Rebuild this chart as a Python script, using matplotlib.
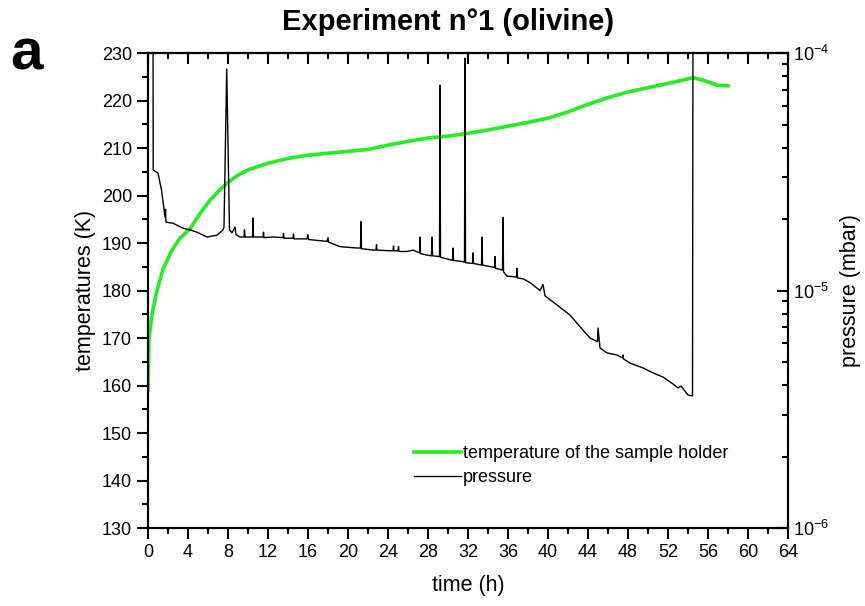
import matplotlib
matplotlib.use("Agg")
import matplotlib.pyplot as plt
import numpy as np
from matplotlib.ticker import MultipleLocator, LogLocator, NullFormatter

plt.rcParams['font.family'] = ['Liberation Sans', 'DejaVu Sans']
plt.rcParams['mathtext.default'] = 'regular'

# temperature of the sample holder (K) vs time (h)
temp_time = [0, 0.1, 0.4, 0.9, 1.5, 2.4, 3.2, 4.2, 5.2, 6.2, 7.0, 7.9, 9, 10, 11, 12,
             14, 16, 18, 20, 22, 24, 26, 28, 30, 32, 34, 36, 38, 40, 42, 44, 46, 48,
             50, 52, 54.5, 55.5, 57, 58]
temp_vals = [159, 170, 175, 180, 184.5, 188.5, 191, 193.0, 196.2, 199, 200.8, 202.6, 204.3,
             205.4, 206.1, 206.8, 207.8, 208.5, 208.9, 209.3, 209.7, 210.6, 211.4, 212.1,
             212.5, 213.1, 213.8, 214.6, 215.4, 216.3, 217.6, 219.2, 220.6, 221.8, 222.7,
             223.6, 224.8, 224.3, 223.2, 223.1]

# pressure (mbar) vs time (h), spikes included
pres_time = [0.5, 0.52, 1.0, 1.35, 1.7, 1.75, 1.8, 2.5, 3.5, 4.2, 4.9, 5.9, 6.9, 7.5, 7.6,
             7.87, 8.15, 8.4, 8.7, 8.8, 9.2, 9.6, 9.65, 9.7, 10.2, 10.45, 10.5, 10.55, 11.0,
             11.5, 11.55, 11.6, 12.5, 13.5, 13.55, 13.6, 14.5, 14.55, 14.6, 15.9, 16.0, 16.05,
             17.9, 18.0, 18.05, 19.2, 20.9, 21.25, 21.3, 21.35, 22.5, 22.8, 22.85, 22.9,
             24.2, 24.5, 24.55, 24.6, 25.0, 25.05, 25.1, 25.9, 26.5, 27.15, 27.2, 27.25, 27.9,
             28.35, 28.4, 28.45, 29.15, 29.2, 29.25, 30.45, 30.5, 30.55, 31.65, 31.7, 31.75,
             32.45, 32.5, 32.55, 33.35, 33.4, 33.45, 34.65, 34.7, 34.75, 35.45, 35.5, 35.55,
             35.9, 36.85, 36.9, 36.95, 37.5, 38.2, 39.2, 39.5, 39.7, 41.2, 42.2, 43.2, 44.2,
             44.95, 45.0, 45.2, 45.9, 46.9, 47.45, 47.5, 47.55, 48.2, 49.5, 50.5, 51.5, 52.5,
             53.0, 53.3, 54.0, 54.45, 54.5]
pres_vals = [2e-4, 3.22e-5, 3.12e-5, 2.65e-5, 2.04e-5, 2.2e-5, 1.94e-5, 1.92e-5, 1.83e-5,
             1.80e-5, 1.76e-5, 1.68e-5, 1.71e-5, 1.80e-5, 1.85e-5, 8.57e-5, 1.8e-5, 1.75e-5,
             1.85e-5, 1.72e-5, 1.68e-5, 1.68e-5, 1.80e-5, 1.68e-5, 1.68e-5, 1.68e-5, 2.02e-5,
             1.68e-5, 1.68e-5, 1.68e-5, 1.76e-5, 1.67e-5, 1.68e-5, 1.67e-5, 1.74e-5, 1.66e-5,
             1.66e-5, 1.73e-5, 1.65e-5, 1.65e-5, 1.72e-5, 1.64e-5, 1.61e-5, 1.67e-5, 1.60e-5,
             1.53e-5, 1.51e-5, 1.51e-5, 1.95e-5, 1.50e-5, 1.48e-5, 1.48e-5, 1.56e-5, 1.48e-5,
             1.47e-5, 1.47e-5, 1.54e-5, 1.47e-5, 1.47e-5, 1.53e-5, 1.46e-5, 1.46e-5, 1.48e-5,
             1.44e-5, 1.68e-5, 1.43e-5, 1.41e-5, 1.40e-5, 1.68e-5, 1.40e-5, 1.39e-5, 7.33e-5,
             1.38e-5, 1.34e-5, 1.51e-5, 1.34e-5, 1.32e-5, 9.5e-5, 1.31e-5, 1.30e-5, 1.44e-5,
             1.30e-5, 1.28e-5, 1.68e-5, 1.28e-5, 1.25e-5, 1.39e-5, 1.24e-5, 1.22e-5, 2.03e-5,
             1.20e-5, 1.15e-5, 1.14e-5, 1.24e-5, 1.13e-5, 1.12e-5, 1.08e-5, 1.0e-5, 1.06e-5,
             9.5e-6, 8.5e-6, 7.88e-6, 7.04e-6, 6.31e-6, 6.09e-6, 6.95e-6, 5.73e-6, 5.46e-6,
             5.35e-6, 5.20e-6, 5.35e-6, 5.15e-6, 4.95e-6, 4.72e-6, 4.50e-6, 4.32e-6, 4.04e-6,
             3.89e-6, 3.96e-6, 3.63e-6, 3.60e-6, 2e-4]

fig = plt.figure(figsize=(8.65, 6.06), dpi=100)
ax = fig.add_axes([0.1711, 0.1287, 0.7399, 0.7838])
ax2 = ax.twinx()

lt, = ax.plot(temp_time, temp_vals, color='#22ee22', lw=2.6, zorder=3)
lp, = ax2.plot(pres_time, pres_vals, color='black', lw=1.0)

ax.set_xlim(0, 64)
ax.set_ylim(130, 230)
ax2.set_yscale('log')
ax2.set_ylim(1e-6, 1e-4)

ax.xaxis.set_major_locator(MultipleLocator(4))
ax.xaxis.set_minor_locator(MultipleLocator(2))
ax.yaxis.set_major_locator(MultipleLocator(10))
ax.yaxis.set_minor_locator(MultipleLocator(5))
ax2.yaxis.set_major_locator(LogLocator(base=10, numticks=5))
ax2.yaxis.set_minor_locator(LogLocator(base=10, subs=np.arange(2, 10), numticks=20))
ax2.yaxis.set_minor_formatter(NullFormatter())

ax.tick_params(axis='both', which='major', direction='out', length=8, width=1.5, labelsize=13)
ax.tick_params(axis='both', which='minor', direction='out', length=4, width=1.5)
ax.tick_params(axis='x', which='both', top=False)
ax2.tick_params(axis='y', which='major', direction='in', length=8, width=1.5, labelsize=13)
ax2.tick_params(axis='y', which='minor', direction='in', length=4, width=1.5)

sec = ax.secondary_xaxis('top')
sec.xaxis.set_major_locator(MultipleLocator(4))
sec.xaxis.set_minor_locator(MultipleLocator(2))
sec.tick_params(which='major', direction='in', length=8, width=1.5, labeltop=False)
sec.tick_params(which='minor', direction='in', length=4, width=1.5)
sec.spines['top'].set_linewidth(1.5)

for a in (ax, ax2):
    for s in a.spines.values():
        s.set_linewidth(1.5)

ax.set_xlabel('time (h)', fontsize=15.5, labelpad=10)
ax.set_ylabel('temperatures (K)', fontsize=15.5, labelpad=4)
ax2.set_ylabel('pressure (mbar)', fontsize=15.5, labelpad=8)

ax2.legend([lt, lp], ['temperature of the sample holder', 'pressure'], loc='center left',
           bbox_to_anchor=(0.405, 0.131), frameon=False, fontsize=13, handlelength=2.6,
           handletextpad=0.1, borderaxespad=0, labelspacing=0.4)

fig.text(0.518, 0.963, 'Experiment n°1 (olivine)', fontsize=21, fontweight='bold',
         ha='center', va='center')
fig.text(0.012, 0.91, 'a', fontsize=42, fontweight='bold', ha='left', va='center')

fig.savefig('out.png', dpi=100)
